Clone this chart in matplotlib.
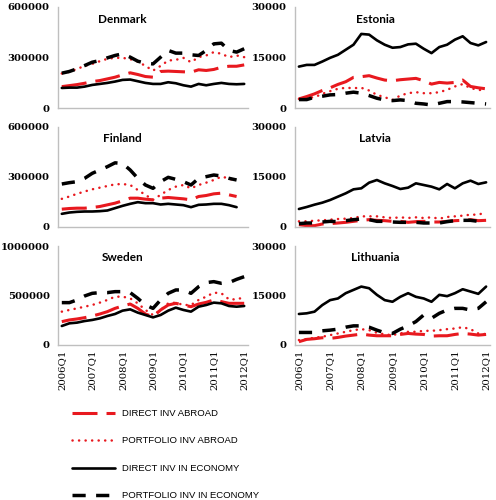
import numpy as np
import matplotlib
matplotlib.use("Agg")
import matplotlib.pyplot as plt

quarters = [f"{y}Q{q}" for y in range(2006, 2013) for q in range(1, 5)][:25]
tick_pos = list(range(0, 25, 4))
tick_lab = [quarters[i] for i in tick_pos]

series_names = ["DIRECT INV ABROAD", "PORTFOLIO INV ABROAD",
                "DIRECT INV IN ECONOMY", "PORTFOLIO INV IN ECONOMY"]

# Denmark
dk_dia = [127, 133, 139, 147, 157, 163, 173, 183, 197, 209, 199, 187, 183,
          217, 219, 217, 215, 213, 227, 223, 229, 242, 248, 248, 256]
dk_pia = [205, 215, 232, 250, 262, 278, 292, 298, 298, 290, 276, 250, 222,
          250, 282, 286, 298, 272, 302, 312, 332, 322, 302, 312, 302]
dk_die = [119, 121, 121, 127, 137, 143, 149, 157, 167, 169, 159, 149, 143,
          143, 153, 147, 135, 127, 143, 135, 143, 149, 143, 141, 143]
dk_pie = [207, 217, 233, 252, 272, 282, 298, 312, 322, 302, 278, 266, 262,
          302, 342, 326, 326, 316, 312, 342, 381, 385, 342, 332, 352]

# Estonia
ee_dia = [2.7, 3.4, 4.2, 5.2, 6.0, 7.0, 7.8, 9.1, 9.3, 9.6, 8.9, 8.3, 8.1,
          8.4, 8.6, 8.8, 8.1, 7.1, 7.6, 7.4, 7.6, 8.3, 6.4, 6.0, 5.7]
ee_pia = [2.7, 3.0, 3.2, 4.2, 5.0, 5.7, 6.0, 5.9, 6.0, 5.2, 3.9, 3.2, 2.4,
          3.7, 4.4, 4.7, 4.4, 4.4, 4.7, 5.4, 6.4, 7.1, 5.9, 5.4, 5.2]
ee_die = [12.3, 12.8, 12.8, 13.8, 14.9, 15.8, 17.3, 18.8, 22.0, 21.8, 20.1,
          18.8, 17.9, 18.1, 18.9, 19.1, 17.6, 16.3, 18.1, 18.8, 20.3, 21.3,
          19.3, 18.6, 19.6]
ee_pie = [2.5, 2.5, 3.2, 3.5, 3.9, 4.0, 4.4, 4.7, 4.4, 3.7, 2.9, 2.4, 2.2,
          2.4, 2.2, 1.4, 1.2, 0.9, 1.4, 1.9, 1.9, 1.8, 1.6, 1.4, 1.2]

# Finland (last quarter missing)
fi_dia = [107, 111, 113, 113, 117, 123, 133, 143, 157, 173, 173, 167, 163,
          173, 177, 173, 169, 163, 183, 189, 199, 203, 193, 183, np.nan]
fi_pia = [169, 183, 199, 213, 226, 236, 246, 256, 258, 252, 222, 193, 163,
          193, 222, 242, 252, 232, 252, 266, 282, 302, 292, 272, np.nan]
fi_die = [79, 87, 91, 93, 93, 95, 99, 113, 127, 139, 149, 143, 143, 135,
          139, 135, 131, 119, 133, 135, 139, 139, 131, 119, np.nan]
fi_pie = [258, 266, 272, 292, 322, 342, 362, 385, 381, 342, 292, 252, 232,
          272, 298, 286, 272, 252, 292, 302, 312, 306, 292, 282, np.nan]

# Latvia
lv_dia = [0.7, 0.4, 0.4, 0.9, 1.0, 1.2, 1.4, 1.7, 2.0, 2.2, 2.0, 1.9, 1.7,
          1.7, 1.4, 1.6, 1.7, 1.5, 1.5, 1.7, 1.9, 2.0, 2.2, 1.9, 2.0]
lv_pia = [1.7, 1.7, 1.9, 2.0, 2.2, 2.4, 2.5, 2.7, 3.2, 3.2, 3.2, 2.9, 2.7,
          2.9, 2.7, 2.9, 2.7, 2.9, 2.5, 3.0, 3.2, 3.4, 3.7, 3.7, 4.4]
lv_die = [5.4, 6.0, 6.7, 7.3, 8.1, 9.1, 10.1, 11.3, 11.6, 13.3, 14.1, 13.1,
          12.3, 11.4, 11.8, 13.1, 12.6, 12.1, 11.3, 12.9, 11.6, 13.1, 13.9,
          12.9, 13.4]
lv_pie = [1.0, 1.2, 1.2, 1.5, 1.7, 1.6, 1.9, 2.2, 2.4, 2.2, 1.7, 1.7, 1.5,
          1.4, 1.4, 1.4, 1.2, 1.2, 1.2, 1.6, 1.9, 2.0, 2.0, 1.7, 2.7]

# Sweden
se_dia = [236, 253, 263, 276, 293, 313, 337, 370, 394, 414, 370, 313, 286,
          354, 404, 421, 404, 387, 414, 431, 455, 438, 421, 421, 421]
se_pia = [337, 354, 370, 387, 404, 428, 455, 488, 488, 471, 421, 354, 303,
          354, 421, 428, 404, 404, 455, 488, 529, 522, 461, 461, 482]
se_die = [192, 219, 226, 242, 253, 269, 293, 313, 347, 360, 327, 303, 279,
          303, 347, 377, 354, 337, 387, 404, 428, 421, 394, 387, 394]
se_pie = [428, 428, 455, 495, 522, 529, 529, 539, 539, 529, 471, 404, 370,
          455, 522, 556, 556, 522, 589, 630, 640, 623, 630, 663, 690]

# Lithuania
lt_dia = [1.0, 1.7, 1.9, 2.2, 2.0, 2.3, 2.7, 3.0, 3.3, 3.0, 2.8, 2.8, 2.8,
          3.2, 3.5, 3.3, 3.2, 2.7, 2.8, 2.8, 3.2, 3.5, 3.3, 3.0, 3.2]
lt_pia = [1.5, 1.8, 2.2, 2.5, 3.0, 3.5, 4.0, 4.5, 4.8, 4.5, 3.7, 3.2, 3.0,
          3.5, 4.0, 4.0, 4.3, 4.3, 4.5, 4.8, 5.0, 5.4, 4.8, 3.5, 3.3]
lt_die = [9.4, 9.6, 10.1, 12.1, 13.6, 14.1, 15.7, 16.7, 17.7, 17.2, 15.2,
          13.6, 13.1, 14.6, 15.7, 14.6, 14.1, 13.1, 15.2, 14.8, 15.7, 16.9,
          16.2, 15.5, 17.7]
lt_pie = [3.8, 3.8, 3.8, 4.3, 4.5, 4.8, 5.4, 5.8, 5.8, 5.4, 4.5, 3.7, 3.5,
          4.8, 5.8, 7.1, 9.1, 8.1, 9.6, 10.6, 11.1, 11.1, 10.6, 11.1, 13.1]

panels = [
    ("Denmark", 1000, 600000, [dk_dia, dk_pia, dk_die, dk_pie]),
    ("Estonia", 1000, 30000, [ee_dia, ee_pia, ee_die, ee_pie]),
    ("Finland", 1000, 600000, [fi_dia, fi_pia, fi_die, fi_pie]),
    ("Latvia", 1000, 30000, [lv_dia, lv_pia, lv_die, lv_pie]),
    ("Sweden", 1000, 1000000, [se_dia, se_pia, se_die, se_pie]),
    ("Lithuania", 1000, 30000, [lt_dia, lt_pia, lt_die, lt_pie]),
]

RED = "#e8191f"
plt.rcParams["lines.scale_dashes"] = False
styles = [
    dict(color=RED, lw=2.2, dashes=(18, 6.5), dash_capstyle="butt"),
    dict(color=RED, lw=1.8, dashes=(0.1, 4.6), dash_capstyle="round"),
    dict(color="black", lw=1.9, solid_capstyle="round", solid_joinstyle="round"),
    dict(color="black", lw=2.5, dashes=(9.5, 7.5), dash_capstyle="butt"),
]

fig = plt.figure(figsize=(4.96, 5.0), dpi=100)
col_x = [(58, 190), (295, 195)]
row_y = [(7, 108), (127, 227), (246, 345)]

handles = []
x = np.arange(25)
for k, (name, scale, ymax, data) in enumerate(panels):
    r, c = divmod(k, 2)
    x0, w = col_x[c]
    top, bot = row_y[r]
    ax = fig.add_axes([x0 / 496, 1 - bot / 500, w / 496, (bot - top) / 500])
    for s, st in zip(data, styles):
        ln, = ax.plot(x, np.array(s, dtype=float) * scale, **st)
        if k == 0:
            handles.append(ln)
    ax.set_xlim(-0.5, 24.5)
    ax.set_ylim(0, ymax)
    ax.set_yticks([0, ymax // 2, ymax])
    ax.set_yticklabels([str(v) for v in [0, ymax // 2, ymax]],
                       family="DejaVu Serif", fontweight="bold", fontsize=7.2)
    ax.set_xticks(tick_pos)
    if r == 2:
        ax.set_xticklabels(tick_lab, rotation=90, family="DejaVu Serif",
                           fontsize=7.3)
    else:
        ax.set_xticklabels([])
    ax.tick_params(length=0, pad=6)
    ax.tick_params(axis="x", pad=3)
    for sp in ["top", "right"]:
        ax.spines[sp].set_visible(False)
    for sp in ["left", "bottom"]:
        ax.spines[sp].set_color("#bfbfbf")
        ax.spines[sp].set_linewidth(1.0)
    ax.text(0.34 if c == 0 else 0.41, 0.88, name, transform=ax.transAxes,
            ha="center", va="center", family="Lato", fontweight="bold",
            fontsize=8.5)

fig.legend(handles, series_names, loc="upper left",
           bbox_to_anchor=(72 / 496, 1 - 409 / 500), frameon=False,
           borderpad=0, borderaxespad=0, handlelength=4.6, handletextpad=0.7,
           labelspacing=1.95, prop=dict(family="Liberation Sans", size=6.8))

fig.savefig("out.png", dpi=100)
